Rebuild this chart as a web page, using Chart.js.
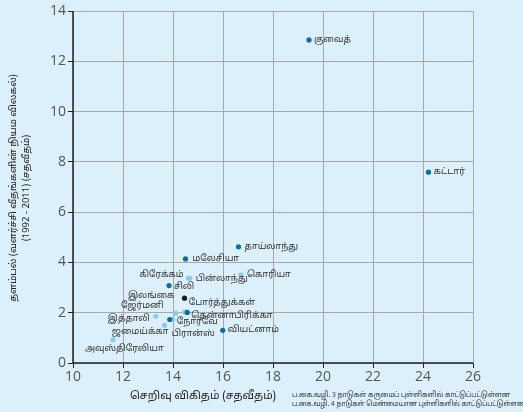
<!DOCTYPE html>
<html lang="ta">
<head>
<meta charset="UTF-8">
<title>செறிவு விகிதமும் தளம்பலும்</title>
<style>
    body { margin: 0; background: #dcf0fb; }
    canvas { display: block; }
</style>
<script src="https://cdn.jsdelivr.net/npm/chart.js"></script>
</head>
<body>
<canvas id="chart" width="523" height="412"></canvas>
<script>
    const countries = ["குவைத்", "கட்டார்", "தாய்லாந்து", "மலேசியா", "கொரியா", "பின்லாந்து", "கிரேக்கம்", "சிலி",
        "இலங்கை", "போர்த்துக்கள்", "ஜேர்மனி", "தென்னாபிரிக்கா", "இத்தாலி", "நோர்வே", "பிரான்ஸ்", "ஜமைய்க்கா",
        "வியட்னாம்", "அவுஸ்திரேலியா"];
    const concentration = [19.44, 24.22, 16.62, 14.5, 16.72, 14.67, 14.62, 13.84,
        14.46, 14.47, 14.1, 14.57, 13.31, 13.87, 13.99, 13.66, 15.99, 11.6];
    const volatility = [12.85, 7.59, 4.62, 4.14, 3.51, 3.37, 3.38, 3.08,
        2.58, 2.03, 1.98, 2.01, 1.86, 1.73, 1.74, 1.50, 1.30, 0.93];
    // dark = ப.கை.வழி. 3, light = ப.கை.வழி. 4, lanka = இலங்கை
    const groups = ["dark", "dark", "dark", "dark", "light", "light", "light", "dark",
        "lanka", "light", "light", "dark", "light", "dark", "light", "light", "dark", "light"];
    const xTicks = [10, 12, 14, 16, 18, 20, 22, 24, 26];
    const yTicks = [0, 2, 4, 6, 8, 10, 12, 14];

    // label placement next to each point: [dx, dy, align]
    const labelPlace = [[5, 0, "left"], [5, 0, "left"], [6, 0, "left"], [7, 0, "left"], [6, 0, "left"],
        [6, 1, "left"], [-5, -3, "right"], [5, 2, "left"], [-10, -2, "right"], [4, -9, "left"],
        [-12, -7, "right"], [4, 4, "left"], [-6, 3, "right"], [7, 3, "left"], [-1, 15, "left"],
        [4, 7, "right"], [5, 0, "left"], [-28, 10, "left"]];

    const colours = { dark: "#0b6e99", light: "#8fcbe4", lanka: "#1a1a1a" };
    const tamilFont = "'Noto Sans Tamil', 'Latha', 'Noto Sans', sans-serif";

    // light points underneath the dark ones
    const order = countries.map((c, i) => i).sort((a, b) => (groups[a] === "light" ? 0 : 1) - (groups[b] === "light" ? 0 : 1));
    const points = order.map(i => ({ x: concentration[i], y: volatility[i], i: i }));

    function fitText(ctx, text, x, y, width) {
        const w = ctx.measureText(text).width;
        ctx.save();
        ctx.translate(x, y);
        ctx.scale(Math.min(1, width / w), 1);
        ctx.fillText(text, 0, 0);
        ctx.restore();
    }

    const labelPlugin = {
        id: "labels",
        afterDatasetsDraw(chart) {
            const ctx = chart.ctx;
            const xs = chart.scales.x, ys = chart.scales.y;
            ctx.save();
            ctx.font = "9px " + tamilFont;
            ctx.fillStyle = "#333";
            ctx.textBaseline = "middle";
            countries.forEach((name, i) => {
                const px = xs.getPixelForValue(concentration[i]);
                const py = ys.getPixelForValue(volatility[i]);
                const p = labelPlace[i];
                ctx.textAlign = p[2];
                ctx.fillText(name, px + p[0], py + p[1]);
            });

            // axis titles
            ctx.fillStyle = "#222";
            ctx.font = "11px " + tamilFont;
            ctx.textAlign = "center";
            ctx.fillText("செறிவு விகிதம் (சதவீதம்)", 203, 397);

            ctx.save();
            ctx.translate(14, 188);
            ctx.rotate(-Math.PI / 2);
            ctx.font = "9.5px " + tamilFont;
            ctx.fillText("தளம்பல் (வளர்ச்சி வீதங்களின் நியம விலகல்)", 0, 0);
            ctx.fillText("(1992 - 2011) (சதவீதம்)", 0, 13);
            ctx.restore();

            // footnote
            ctx.font = "7.5px " + tamilFont;
            ctx.textAlign = "left";
            ctx.fillStyle = "#333";
            fitText(ctx, "ப.கை.வழி. 3 நாடுகள் கருமைப் புள்ளிகளில் காட்டுப்பட்டுள்ளன", 292, 395, 218);
            fitText(ctx, "ப.கை.வழி. 4 நாடுகள் மென்மையான புள்ளிகளில் காட்டுப்பட்டுள்ளன", 292, 404, 233);

            // dark left and bottom axis lines
            const a = chart.chartArea;
            ctx.strokeStyle = "#222";
            ctx.lineWidth = 1.5;
            ctx.beginPath();
            ctx.moveTo(a.left, a.top);
            ctx.lineTo(a.left, a.bottom);
            ctx.lineTo(a.right, a.bottom);
            ctx.stroke();
            ctx.restore();
        }
    };

    new Chart(document.getElementById("chart"), {
        type: "scatter",
        data: {
            datasets: [{
                data: points,
                pointRadius: 2.6,
                pointHoverRadius: 2.6,
                borderWidth: 0,
                pointBackgroundColor: points.map(p => colours[groups[p.i]]),
                pointBorderColor: points.map(p => colours[groups[p.i]])
            }]
        },
        options: {
            responsive: false,
            animation: false,
            layout: { padding: { top: 11, right: 50, left: 0, bottom: 0 } },
            plugins: { legend: { display: false }, tooltip: { enabled: false } },
            scales: {
                x: {
                    type: "linear",
                    min: 10, max: 26,
                    afterBuildTicks: s => { s.ticks = xTicks.map(v => ({ value: v })); },
                    afterFit: s => { s.height = 49; },
                    grid: { color: "#a8a8a8", lineWidth: 1, tickLength: 5, tickColor: "#222" },
                    border: { display: false },
                    ticks: { color: "#555", font: { family: "'Open Sans', sans-serif", size: 14 }, padding: 1, maxRotation: 0 }
                },
                y: {
                    type: "linear",
                    min: 0, max: 14,
                    afterBuildTicks: s => { s.ticks = yTicks.map(v => ({ value: v })); },
                    afterFit: s => { s.width = 73; },
                    grid: { color: "#a8a8a8", lineWidth: 1, tickLength: 5, tickColor: "#222" },
                    border: { display: false },
                    ticks: { color: "#555", font: { family: "'Open Sans', sans-serif", size: 14 }, padding: 2 }
                }
            }
        },
        plugins: [labelPlugin]
    });
</script>
</body>
</html>
